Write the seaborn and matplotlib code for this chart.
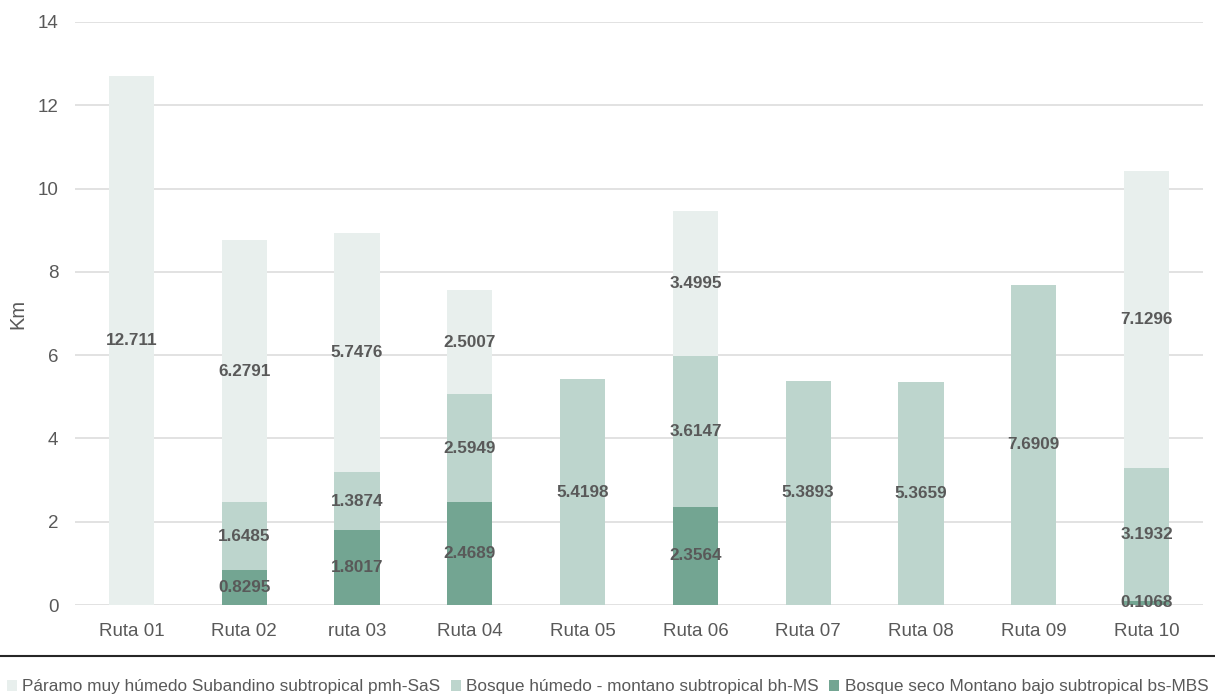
import matplotlib
matplotlib.use("Agg")
import matplotlib.pyplot as plt
from matplotlib.lines import Line2D
from matplotlib.patches import Patch
import seaborn as sns
import pandas as pd
import numpy as np

categories = ["Ruta 01", "Ruta 02", "ruta 03", "Ruta 04", "Ruta 05",
              "Ruta 06", "Ruta 07", "Ruta 08", "Ruta 09", "Ruta 10"]
seco = [0, 0.8295, 1.8017, 2.4689, 0, 2.3564, 0, 0, 0, 0.1068]
humedo = [0, 1.6485, 1.3874, 2.5949, 5.4198, 3.6147, 5.3893, 5.3659, 7.6909, 3.1932]
paramo = [12.711, 6.2791, 5.7476, 2.5007, 0, 3.4995, 0, 0, 0, 7.1296]
series_names = ["Páramo muy húmedo Subandino subtropical pmh-SaS",
                "Bosque húmedo - montano subtropical bh-MS",
                "Bosque seco Montano bajo subtropical bs-MBS"]
colors = ["#E8EFED", "#BDD5CD", "#73A592"]

sns.set_theme(style="white")
plt.rcParams["font.family"] = ["Liberation Sans", "DejaVu Sans"]

df = pd.DataFrame({"cat": categories, "seco": seco, "humedo": humedo, "paramo": paramo})
df["c1"] = df["seco"]
df["c2"] = df["seco"] + df["humedo"]
df["c3"] = df["c2"] + df["paramo"]

fig = plt.figure(figsize=(12.15, 6.95), dpi=100)
ax = fig.add_axes([75 / 1215, 1 - 605 / 695, 1128 / 1215, 583 / 695])

for col, color in [("c3", colors[0]), ("c2", colors[1]), ("c1", colors[2])]:
    sns.barplot(data=df, x="cat", y=col, color=color, saturation=1, width=0.4,
                ax=ax, errorbar=None, zorder=3, linewidth=0, edgecolor="none")

ax.set_xlim(-0.5, len(categories) - 0.5)
ax.set_ylim(0, 14)
ax.set_yticks(range(0, 15, 2))
ax.yaxis.grid(True, color="#DDDDDD", linewidth=1.2, zorder=0)
ax.set_axisbelow(True)
for s in ax.spines.values():
    s.set_visible(False)
ax.set_xlabel("")
ax.set_ylabel("Km", fontsize=14.5, color="#595959")
ax.yaxis.set_label_coords(-0.0425, 0.5)
ax.tick_params(axis="both", labelsize=13.5, colors="#595959", length=0)
ax.tick_params(axis="y", pad=12)
ax.tick_params(axis="x", pad=13)

for i in range(len(categories)):
    for vals, base in [(seco, 0), (humedo, seco[i]), (paramo, seco[i] + humedo[i])]:
        v = vals[i]
        if v > 0:
            ax.text(i, base + v / 2, f"{v:g}", ha="center", va="center",
                    fontsize=12.3, fontweight="bold", color="#595959", zorder=5)

fig.add_artist(Line2D([0.0, 1.0], [1 - 656 / 695] * 2, transform=fig.transFigure,
                      color="#262626", linewidth=1.5))
handles = [Patch(facecolor=c, edgecolor="none") for c in colors]
fig.legend(handles, series_names, loc="center", bbox_to_anchor=(0.5, 1 - 687 / 695),
           ncol=3, frameon=False, fontsize=12.4, handlelength=0.6, handleheight=0.6,
           handletextpad=0.3, columnspacing=0.6, labelcolor="#595959")

fig.savefig("out.png", dpi=100)
